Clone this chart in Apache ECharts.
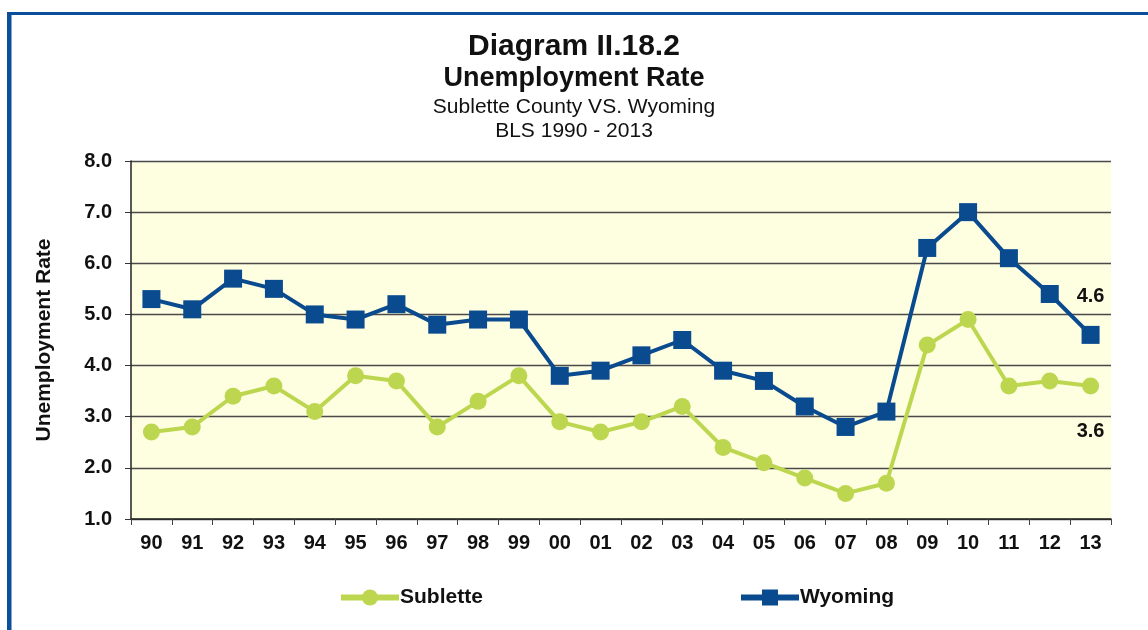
<!DOCTYPE html>
<html>
<head>
<meta charset="utf-8">
<script src="https://cdn.jsdelivr.net/npm/echarts@6/dist/echarts.min.js"></script>
<style>
html,body{margin:0;padding:0;background:#fff;}
#c{width:1148px;height:630px;}
</style>
</head>
<body>
<div id="c"></div>
<script>
const categories = ['90','91','92','93','94','95','96','97','98','99','00','01','02','03','04','05','06','07','08','09','10','11','12','13'];
const sublette = [2.7,2.8,3.4,3.6,3.1,3.8,3.7,2.8,3.3,3.8,2.9,2.7,2.9,3.2,2.4,2.1,1.8,1.5,1.7,4.4,4.9,3.6,3.7,3.6];
const wyoming  = [5.3,5.1,5.7,5.5,5.0,4.9,5.2,4.8,4.9,4.9,3.8,3.9,4.2,4.5,3.9,3.7,3.2,2.8,3.1,6.3,7.0,6.1,5.4,4.6];
const yTicks = ['1.0','2.0','3.0','4.0','5.0','6.0','7.0','8.0'];

const FONT = '"Liberation Sans", Arial, sans-serif';
const BLUE = '#0A4A8F';
const GREEN = '#BCD74F';

function withLastLabel(arr, offset) {
  return arr.map((v, i) => i === arr.length - 1
    ? { value: v, label: { show: true, position: 'inside', offset: offset, formatter: (p) => p.value.toFixed(1),
        color: '#111', fontFamily: FONT, fontWeight: 'bold', fontSize: 20 } }
    : v);
}

const chart = echarts.init(document.getElementById('c'), null, { renderer: 'canvas' });
chart.setOption({
  backgroundColor: '#ffffff',
  animation: false,
  graphic: [
    { type: 'rect', shape: { x: 7, y: 12, width: 4.5, height: 700 }, style: { fill: '#0B4E9B' }, z: 100 },
    { type: 'rect', shape: { x: 7, y: 12, width: 1200, height: 3 }, style: { fill: '#0B4E9B' }, z: 100 },
    { type: 'text', left: 'center', top: 32, style: { text: 'Diagram II.18.2', font: 'bold 30px ' + FONT, fill: '#111' } },
    { type: 'text', left: 'center', top: 65, style: { text: 'Unemployment Rate', font: 'bold 27px ' + FONT, fill: '#111' } },
    { type: 'text', left: 'center', top: 97, style: { text: 'Sublette County VS. Wyoming', font: '21px ' + FONT, fill: '#111' } },
    { type: 'text', left: 'center', top: 121, style: { text: 'BLS 1990 - 2013', font: '21px ' + FONT, fill: '#111' } }
  ],
  grid: {
    left: 131, right: 37, top: 161, bottom: 111,
    show: true, backgroundColor: '#FEFEE1', borderWidth: 0
  },
  legend: [
    { left: 333, top: 582, data: ['Sublette'], itemWidth: 58, itemHeight: 20, itemGap: 10,
      lineStyle: { width: 6 },
      textStyle: { fontFamily: FONT, fontWeight: 'bold', fontSize: 21, color: '#111', padding: [0, 0, 0, -4] } },
    { left: 733, top: 582, data: ['Wyoming'], itemWidth: 58, itemHeight: 20, itemGap: 10,
      lineStyle: { width: 6 },
      textStyle: { fontFamily: FONT, fontWeight: 'bold', fontSize: 21, color: '#111', padding: [0, 0, 0, -4] } }
  ],
  xAxis: {
    type: 'category',
    data: categories,
    boundaryGap: true,
    axisLine: { show: true, lineStyle: { color: '#222', width: 1.5 } },
    axisTick: { show: true, alignWithLabel: false, length: 6, lineStyle: { color: '#444', width: 1 } },
    axisLabel: { margin: 14, fontFamily: FONT, fontWeight: 'bold', fontSize: 20, color: '#111', interval: 0 },
    splitLine: { show: false }
  },
  yAxis: {
    type: 'value',
    min: 1, max: 8, interval: 1,
    name: 'Unemployment Rate',
    nameLocation: 'middle',
    nameGap: 76,
    nameTextStyle: { fontFamily: FONT, fontWeight: 'bold', fontSize: 21, color: '#111' },
    axisLine: { show: true, lineStyle: { color: '#222', width: 1.5 } },
    axisTick: { show: true, inside: false, length: 6, lineStyle: { color: '#333', width: 1 } },
    axisLabel: { margin: 19, fontFamily: FONT, fontWeight: 'bold', fontSize: 20, color: '#111',
      formatter: (v) => yTicks[Math.round(v) - 1] || v.toFixed(1) },
    splitLine: { show: true, lineStyle: { color: '#4a4a4a', width: 1.3 } }
  },
  series: [
    {
      name: 'Sublette', type: 'line',
      data: withLastLabel(sublette, [0, 45]),
      symbol: 'circle', symbolSize: 17,
      lineStyle: { color: GREEN, width: 4 },
      itemStyle: { color: GREEN },
      z: 3
    },
    {
      name: 'Wyoming', type: 'line',
      data: withLastLabel(wyoming, [0, -38]),
      symbol: 'rect', symbolSize: 18,
      lineStyle: { color: BLUE, width: 4 },
      itemStyle: { color: BLUE },
      z: 4
    }
  ]
});
</script>
</body>
</html>
